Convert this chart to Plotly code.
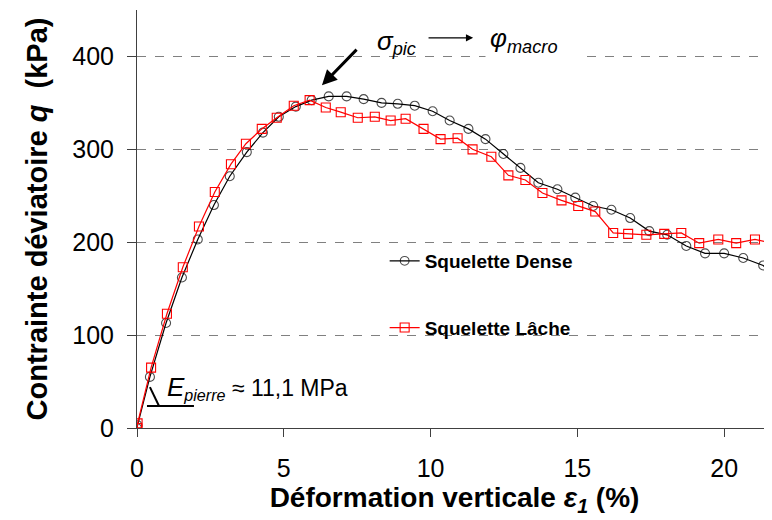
import plotly.graph_objects as go

# Squelette Dense (black circles)
dense_x = [0, 0.02, 0.44, 0.99, 1.53, 2.07, 2.62, 3.16, 3.74, 4.29, 4.83, 5.41, 5.95,
           6.53, 7.14, 7.72, 8.33, 8.88, 9.46, 10.07, 10.65, 11.29, 11.87, 12.48, 13.06,
           13.67, 14.32, 14.93, 15.54, 16.16, 16.80, 17.45, 18.06, 18.71, 19.35, 20.0,
           20.65, 21.33, 21.6]
dense_q = [0, 3, 55, 113, 162, 203, 240, 271, 297, 318, 335, 346, 353,
           357, 357, 354, 350, 349, 347, 341, 331, 322, 311, 295, 280,
           264, 257, 248, 239, 235, 226, 212, 208, 196, 188, 188,
           183, 175, 165]

# Squelette Lâche (red squares)
loose_x = [0, 0.02, 0.48, 1.02, 1.56, 2.11, 2.65, 3.20, 3.71, 4.25, 4.76, 5.34, 5.88,
           6.43, 6.94, 7.52, 8.10, 8.64, 9.15, 9.76, 10.34, 10.92, 11.43, 12.07, 12.65,
           13.23, 13.81, 14.46, 15.03, 15.61, 16.22, 16.73, 17.35, 17.96, 18.54, 19.15,
           19.80, 20.41, 21.05, 21.63]
loose_q = [0, 5, 65, 123, 173, 217, 254, 284, 306, 322, 334, 347, 353,
           345, 340, 334, 335, 331, 333, 322, 311, 312, 300, 292, 272,
           267, 253, 245, 239, 233, 210, 209, 208, 209, 210, 199,
           203, 199, 203, 199]

x_ticks = [0, 5, 10, 15, 20]
y_ticks = [0, 100, 200, 300, 400]

FONT = "Liberation Sans, Arial, sans-serif"

fig = go.Figure()
dense_sizes = [9] * (len(dense_x) - 1) + [0]
fig.add_trace(go.Scatter(
    x=dense_x, y=dense_q, mode="lines+markers", name="Squelette Dense",
    legendgroup="d",
    line=dict(color="black", width=1.2),
    marker=dict(symbol="circle-open", size=dense_sizes, color="black", line=dict(width=1.1)),
))
fig.add_trace(go.Scatter(
    x=loose_x, y=loose_q, mode="lines+markers", name="Squelette Lâche",
    legendgroup="l",
    line=dict(color="#ff0000", width=1.2),
    marker=dict(symbol="square-open", size=9, color="#ff0000", line=dict(width=1.1)),
))

# white box behind legend (hides gridlines)
fig.add_shape(type="rect", xref="paper", yref="paper", x0=0.351, x1=0.7276, y0=0.182, y1=0.459,
              fillcolor="white", line=dict(width=0), layer="between")

# slope mark for E
fig.add_shape(type="line", x0=0.44, y0=44, x1=0.75, y1=23.7, line=dict(color="black", width=2))
fig.add_shape(type="line", x0=0.34, y0=23.7, x1=1.94, y1=23.7, line=dict(color="black", width=2))

fig.add_annotation(x=0.95, y=43, xanchor="left", yanchor="middle", showarrow=False,
                   text='<span style="font-size:26px"><i>E</i></span><sub><i>pierre</i></sub> ≈ 11,1 MPa',
                   font=dict(family=FONT, size=23, color="black"))

fig.add_annotation(x=8.11, y=415, xanchor="left", yanchor="middle", showarrow=False,
                   text='<i>σ</i><sub><i>pic</i></sub>',
                   font=dict(family=FONT, size=26, color="black"))

fig.add_annotation(x=11.86, y=418, xanchor="left", yanchor="middle", showarrow=False,
                   text='<i>φ</i><sub><i>macro</i></sub>', align="left",
                   width=90, height=40, borderpad=4, bgcolor="white",
                   font=dict(family=FONT, size=26, color="black"))

# thick arrow toward the peak
fig.add_annotation(x=6.30, y=369, ax=7.53, ay=409, axref="x", ayref="y", text="",
                   showarrow=True, arrowhead=2, arrowsize=1, arrowwidth=3, arrowcolor="black")
# thin arrow σ -> φ
fig.add_annotation(x=11.45, y=420, ax=9.88, ay=420, axref="x", ayref="y", text="",
                   showarrow=True, arrowhead=2, arrowsize=1.2, arrowwidth=1.2, arrowcolor="black")

# the page body has an 8px margin: figure is 764x512 so the plot lands where the reference has it
fig.update_layout(
    width=764, height=512,
    margin=dict(l=129, r=0, t=2, b=92),
    paper_bgcolor="white", plot_bgcolor="white",
    font=dict(family=FONT, color="black"),
    showlegend=True,
    legend=dict(x=0.39, y=0.445, xanchor="left", yanchor="top",
                bgcolor="rgba(0,0,0,0)", traceorder="grouped", tracegroupgap=39,
                font=dict(family=FONT, size=19, color="black", weight="bold"),
                itemclick=False),
    xaxis=dict(range=[0, 21.63], tickvals=x_ticks, ticks="outside", ticklen=8,
               tickcolor="#404040", showline=True, linecolor="#404040", linewidth=1,
               showgrid=False, zeroline=False, ticklabelstandoff=10, automargin=False,
               tickfont=dict(family=FONT, size=25, color="black"),
               title=dict(text="<b>Déformation verticale <i>ε</i><sub><i>1</i></sub> (%)</b>",
                          font=dict(family=FONT, size=28, color="black"), standoff=0)),
    yaxis=dict(range=[0, 450], tickvals=y_ticks, ticks="outside", ticklen=9,
               tickcolor="#404040", showline=True, linecolor="#404040", linewidth=1,
               showgrid=True, gridcolor="#808080", griddash="9px,9px", gridwidth=1,
               zeroline=False, ticklabelstandoff=8, automargin=False,
               tickfont=dict(family=FONT, size=25, color="black"),
               title=dict(text="<b>Contrainte déviatoire <i>q</i>\u00a0 (kPa)</b>",
                          font=dict(family=FONT, size=29, color="black"), standoff=16)),
)

fig.write_html("out.html")
